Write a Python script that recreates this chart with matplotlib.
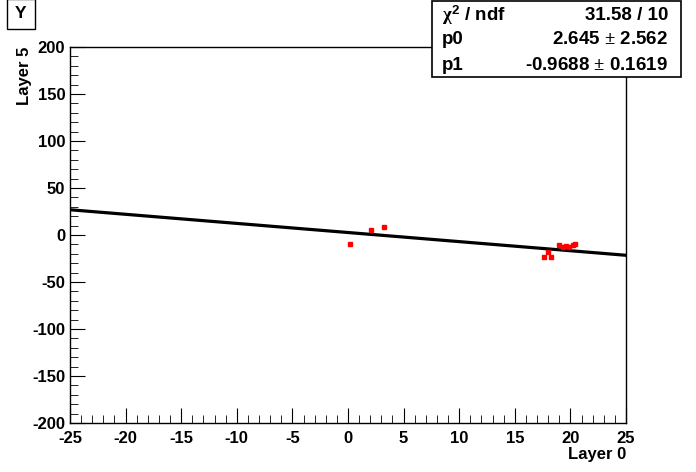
import matplotlib
matplotlib.use('Agg')
import matplotlib.pyplot as plt
import numpy as np
from matplotlib.ticker import MultipleLocator

# data points (Layer 0 vs Layer 5)
layer0 = [0.2, 2.1, 3.2, 17.6, 18.0, 18.3, 19.0, 19.3, 19.6, 19.9, 20.2, 20.4]
layer5 = [-9.6, 5.3, 8.8, -23.0, -18.0, -23.0, -11.0, -13.0, -12.0, -13.0, -11.0, -10.0]

# fit results
p0, p0_err = 2.645, 2.562
p1, p1_err = -0.9688, 0.1619
chi2, ndf = 31.58, 10

plt.rcParams['font.family'] = ['Liberation Sans', 'DejaVu Sans']
plt.rcParams['font.weight'] = 'bold'
plt.rcParams['axes.unicode_minus'] = False
plt.rcParams['mathtext.fontset'] = 'custom'
plt.rcParams['mathtext.bf'] = 'Liberation Sans:bold'
plt.rcParams['mathtext.rm'] = 'Liberation Serif'
plt.rcParams['mathtext.it'] = 'Liberation Serif'

fig = plt.figure(figsize=(6.96, 4.72), dpi=100)
ax = fig.add_axes([70/696, 49/472, 556/696, 376/472])

xf = np.array([-25, 25])
ax.plot(xf, p0 + p1*xf, color='black', lw=2.3, zorder=2)
ax.plot(layer0, layer5, 's', color='red', ms=2.6, mec='red', zorder=3)

ax.set_xlim(-25, 25)
ax.set_ylim(-200, 200)
ax.xaxis.set_major_locator(MultipleLocator(5))
ax.xaxis.set_minor_locator(MultipleLocator(1))
ax.yaxis.set_major_locator(MultipleLocator(50))
ax.yaxis.set_minor_locator(MultipleLocator(10))
ax.tick_params(which='both', direction='in', top=False, right=False, labelsize=12)
ax.tick_params(which='major', length=11)
ax.tick_params(which='minor', length=5.5)
ax.tick_params(axis='x', pad=6)
ax.tick_params(axis='y', pad=3.5)
for lab in ax.get_xticklabels() + ax.get_yticklabels():
    lab.set_fontweight('bold')
for s in ax.spines.values():
    s.set_linewidth(1)

fig.text(626/696, 1 - 459/472, 'Layer 0', ha='right', va='baseline', fontsize=12, fontweight='bold')
fig.text(17/696, 1 - 47/472, 'Layer 5', ha='left', va='top', rotation=90, fontsize=12, fontweight='bold')

# title box
fig.text(21/696, 1 - 14/472, 'Y', ha='center', va='center', fontsize=12.5, fontweight='bold',
         bbox=dict(boxstyle='square,pad=0.45', fc='white', ec='black', lw=1))

# stats box
bx0, bx1, by0, by1 = 432/696, 681/696, 1 - 77/472, 1 - 1/472
fig.patches.append(plt.Rectangle((bx0, by0), bx1 - bx0, by1 - by0, transform=fig.transFigure,
                                 fc='white', ec='black', lw=1.2, zorder=5))
rows = [(r'$\chi^{\mathbf{2}}$ / ndf', '%.2f / %d' % (chi2, ndf)),
        ('p0', '%.3f $\\pm$ %.3f' % (p0, p0_err)),
        ('p1', '%.4f $\\pm$ %.4f' % (p1, p1_err))]
for i, (name, val) in enumerate(rows):
    yy = 1 - (15 + i*25)/472
    fig.text(442/696, yy, name, ha='left', va='center', fontsize=13.5, fontweight='bold', zorder=6)
    fig.text(668/696, yy, val, ha='right', va='center', fontsize=13.5, fontweight='bold', zorder=6)

fig.savefig('out.png', dpi=100)
